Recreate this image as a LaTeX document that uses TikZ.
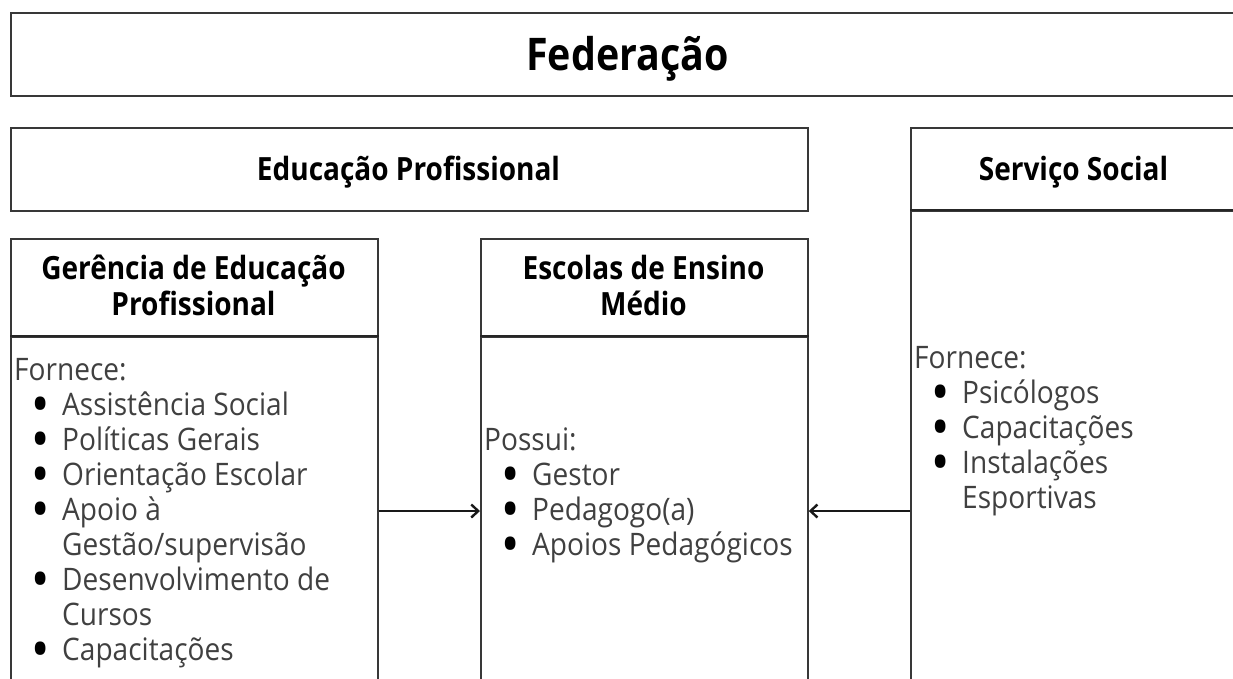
\documentclass[tikz,border=0pt]{standalone}
\usepackage{fontspec}
\setmainfont{Open Sans}
\newfontfamily\semifont{Open Sans}[FakeStretch=0.875]
\newfontfamily\lightfont{Open Sans}[FakeStretch=0.905]
\usetikzlibrary{arrows.meta}
\newcommand{\bl}[1]{\hbox to 48pt{\hskip 26pt\hbox to 0pt{\hss\smash{\raisebox{-4.5pt}{\color{black}\scalebox{1.4}{\semifont\bfseries\char"2022}}}\hss}\hfil}#1}
\newcommand{\cl}[1]{\hbox to 48pt{\hfil}#1}
\tikzset{
  box/.style={draw=black!78, line width=1.7pt, fill=white, inner sep=0pt, anchor=north west},
  ttl/.style={font=\semifont\bfseries\fontsize{45}{54}\selectfont, anchor=base, inner sep=0pt},
  hdr/.style={font=\semifont\bfseries\fontsize{32}{38}\selectfont, anchor=base, inner sep=0pt},
  bod/.style={font=\lightfont\fontsize{31}{35}\selectfont, text=black!75, anchor=base west, inner sep=0pt},
  divider/.style={draw=black!85, line width=2.4pt},
  arr/.style={-{Straight Barb[length=7pt,width=13pt,line width=2.4pt]}, line width=2.4pt, draw=black!90}
}
\begin{document}
\begin{tikzpicture}[x=1pt,y=-1pt]
\useasboundingbox (0,0) rectangle (1233,678);
\fill[white] (0,0) rectangle (1233,678);
\clip (0,0) rectangle (1233,678);
% boxes
\node[box, minimum width=1235pt, minimum height=83pt] (fed) at (10,12) {};
\node[box, minimum width=797pt, minimum height=83pt] (edu) at (10,127) {};
\node[box, minimum width=327pt, minimum height=83pt] (ssh) at (910,127) {};
\node[box, minimum width=327pt, minimum height=500pt] (ssb) at (910,210) {};
\node[box, minimum width=367pt, minimum height=98pt] (gh) at (10,238) {};
\node[box, minimum width=367pt, minimum height=400pt] (gb) at (10,336) {};
\node[box, minimum width=327pt, minimum height=98pt] (eh) at (480,238) {};
\node[box, minimum width=327pt, minimum height=400pt] (eb) at (480,336) {};
% header dividers
\draw[divider] (ssb.north west) -- (ssb.north east);
\draw[divider] (gb.north west) -- (gb.north east);
\draw[divider] (eb.north west) -- (eb.north east);
% titles
\node[ttl] (fedt) at (627.5,70) {Federação};
\node[hdr] (edut) at (408.5,180) {Educação Profissional};
\node[hdr] (sst) at (1073.5,180) {Serviço Social};
\node[hdr] (gt1) at (193.5,279) {Gerência de Educação};
\node[hdr] (gt2) at (193.5,315) {Profissional};
\node[hdr] (et1) at (643.5,279) {Escolas de Ensino};
\node[hdr] (et2) at (643.5,315) {Médio};
% body texts
\foreach \t [count=\i from 0] in {Fornece:, \bl{Assistência Social}, \bl{Políticas Gerais}, \bl{Orientação Escolar}, \bl{Apoio à}, \cl{Gestão/supervisão}, \bl{Desenvolvimento de}, \cl{Cursos}, \bl{Capacitações}}
  \node[bod] (g\i) at (14,{380+35*\i}) {\t};
\foreach \t [count=\i from 0] in {Possui:, \bl{Gestor}, \bl{Pedagogo(a)}, \bl{Apoios Pedagógicos}}
  \node[bod] (e\i) at (484,{450+35*\i}) {\t};
\foreach \t [count=\i from 0] in {Fornece:, \bl{Psicólogos}, \bl{Capacitações}, \bl{Instalações}, \cl{Esportivas}}
  \node[bod] (s\i) at (914,{368+35*\i}) {\t};
% connectors
\coordinate (ya) at (0,511);
\draw[arr] (gb.east |- ya) -- (eb.west |- ya);
\draw[arr] (ssb.west |- ya) -- (eb.east |- ya);
\end{tikzpicture}
\end{document}
